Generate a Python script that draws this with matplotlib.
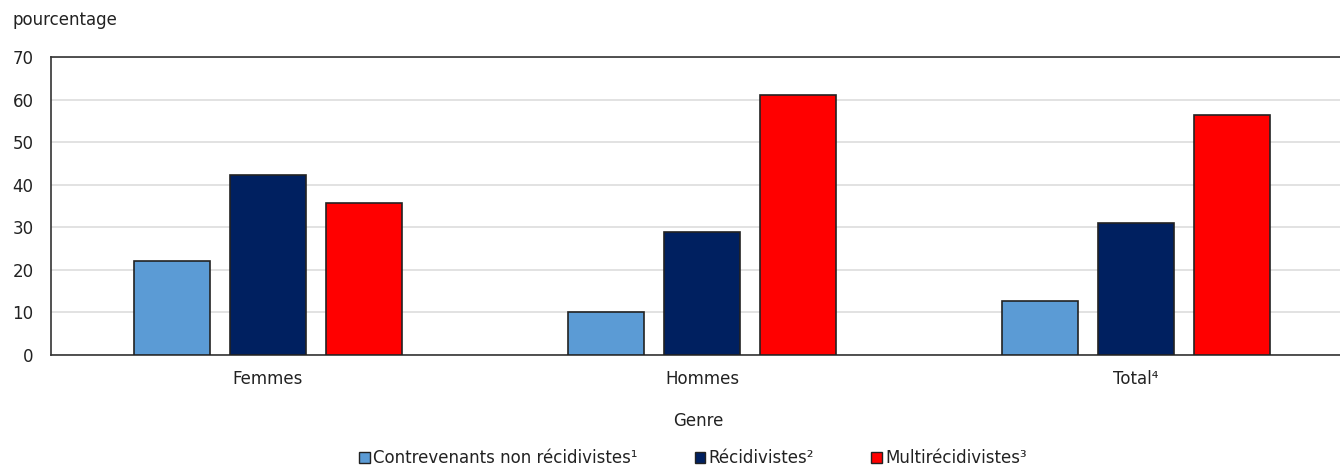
import matplotlib
matplotlib.use("Agg")
import matplotlib.pyplot as plt
import numpy as np
from matplotlib.patches import Patch

categories = ["Femmes", "Hommes", "Total\u2074"]
series_names = ["Contrevenants non récidivistes\u00b9", "Récidivistes\u00b2", "Multirécidivistes\u00b3"]
non_recid = [22.1, 10.0, 12.7]
recid = [42.3, 28.9, 31.0]
multi = [35.7, 61.0, 56.3]
colors = ["#5b9bd5", "#002060", "#ff0000"]
yticks = [0, 10, 20, 30, 40, 50, 60, 70]

FS = 12
plt.rcParams['font.family'] = ['DejaVu Sans']
fig = plt.figure(figsize=(13.4, 4.65), dpi=100)
W, H = 1340, 465
left, right, top, bottom = 51, 1353, 57, 355
ax = fig.add_axes([left / W, 1 - bottom / H, (right - left) / W, (bottom - top) / H])

x = np.arange(len(categories))
bw = 0.175
step = 0.221
for i, (vals, c) in enumerate(zip([non_recid, recid, multi], colors)):
    ax.bar(x + (i - 1) * step, vals, width=bw, color=c, edgecolor="#222222", linewidth=1.2, zorder=3)

ax.set_xlim(-0.5, 2.5)
ax.set_ylim(0, 70)
ax.set_yticks(yticks)
ax.yaxis.grid(True, color="#dddddd", linewidth=1.2, zorder=0)
ax.set_xticks(x)
ax.set_xticklabels(categories, fontsize=FS, color="#222222")
ax.tick_params(axis='both', length=0, labelsize=FS, colors="#222222")
ax.tick_params(axis='x', pad=11)
ax.tick_params(axis='y', pad=12.5)
for s in ["top", "left", "right", "bottom"]:
    ax.spines[s].set_color("#333333")
    ax.spines[s].set_linewidth(1.2)

fig.text(12 / W, 1 - 20 / H, "pourcentage", fontsize=FS, color="#222222", va="center", ha="left")
fig.text(698 / W, 1 - 421 / H, "Genre", fontsize=FS, color="#222222", va="center", ha="center")

handles = [Patch(facecolor=c, edgecolor="#222222", linewidth=1.0) for c in colors]
fig.legend(handles, series_names, loc="center", bbox_to_anchor=(693 / W, 1 - 458 / H),
           ncol=3, frameon=False, fontsize=FS, handlelength=0.65, handleheight=0.65,
           handletextpad=0.2, columnspacing=3.4, labelcolor="#222222", borderaxespad=0)

fig.savefig("out.png", dpi=100)
